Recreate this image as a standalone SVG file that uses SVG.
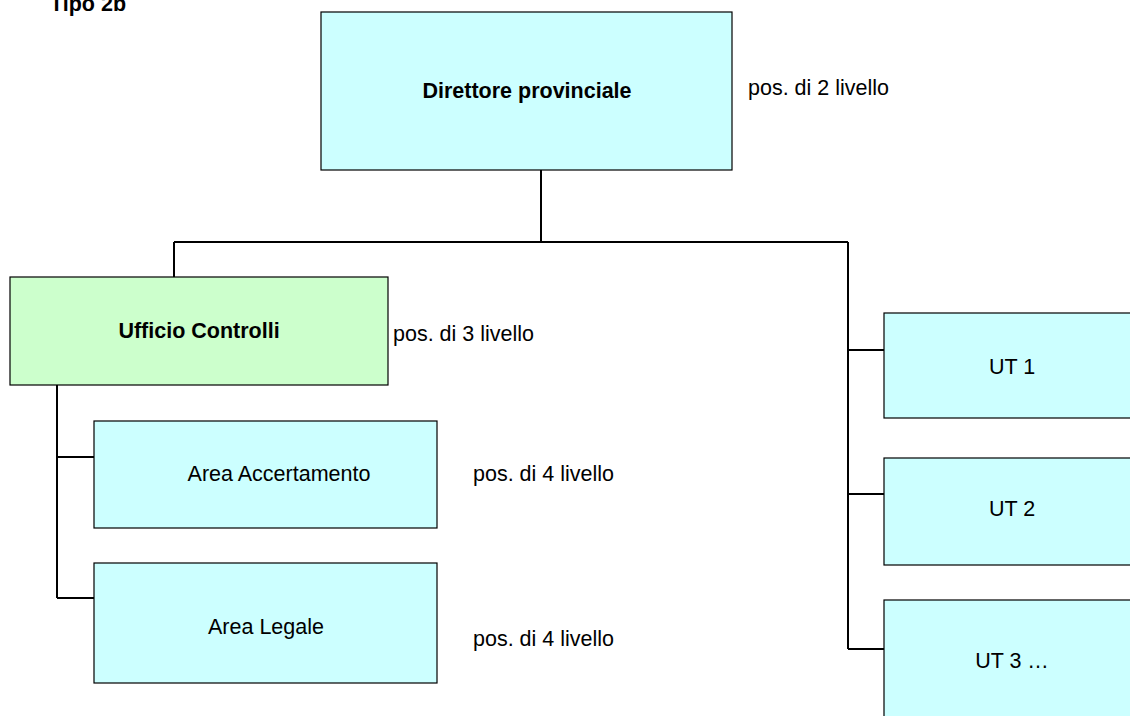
<svg xmlns="http://www.w3.org/2000/svg" width="1130" height="716" viewBox="0 0 1130 716">
<style>
.box{stroke:#000;stroke-width:1.2}
.cyan{fill:#CCFFFF}
.green{fill:#CCFFCC}
.t{font-family:"Liberation Sans",Arial,sans-serif;font-size:21.5px;fill:#000}
.b{font-weight:bold}
.lbl{font-family:"Liberation Sans",Arial,sans-serif;font-size:21.5px;fill:#000}
.conn{stroke:#000;stroke-width:2;fill:none}
</style>
<rect width="1130" height="716" fill="#fff"/>
<text class="t b" x="50" y="11" font-size="24">Tipo 2b</text>
<g id="connectors">
<path class="conn" d="M541,170 V242 M174,242 H848 M174,242 V277 M848,242 V649 M848,350 H884 M848,494 H884 M848,649 H884 M57,385 V598 M57,457 H94 M57,598 H94"/>
</g>
<g id="direttore">
<rect class="box cyan" x="321" y="12" width="411" height="158"/>
<text class="t b" x="527" y="98" text-anchor="middle">Direttore provinciale</text>
</g>
<g id="label-2"><text class="lbl" x="748" y="95">pos. di 2 livello</text></g>
<g id="ufficio">
<rect class="box green" x="10" y="277" width="378" height="108"/>
<text class="t b" x="199" y="338" text-anchor="middle">Ufficio Controlli</text>
</g>
<g id="label-3"><text class="lbl" x="393" y="341">pos. di 3 livello</text></g>
<g id="accertamento">
<rect class="box cyan" x="94" y="421" width="343" height="107"/>
<text class="t" x="279" y="481" text-anchor="middle">Area Accertamento</text>
</g>
<g id="label-4a"><text class="lbl" x="473" y="481">pos. di 4 livello</text></g>
<g id="legale">
<rect class="box cyan" x="94" y="563" width="343" height="120"/>
<text class="t" x="266" y="634" text-anchor="middle">Area Legale</text>
</g>
<g id="label-4b"><text class="lbl" x="473" y="646">pos. di 4 livello</text></g>
<g id="ut1">
<rect class="box cyan" x="884" y="313" width="260" height="105"/>
<text class="t" x="1012" y="374" text-anchor="middle">UT 1</text>
</g>
<g id="ut2">
<rect class="box cyan" x="884" y="458" width="260" height="107"/>
<text class="t" x="1012" y="516" text-anchor="middle">UT 2</text>
</g>
<g id="ut3">
<rect class="box cyan" x="884" y="600" width="260" height="130"/>
<text class="t" x="1012" y="668" text-anchor="middle">UT 3 …</text>
</g>
</svg>
